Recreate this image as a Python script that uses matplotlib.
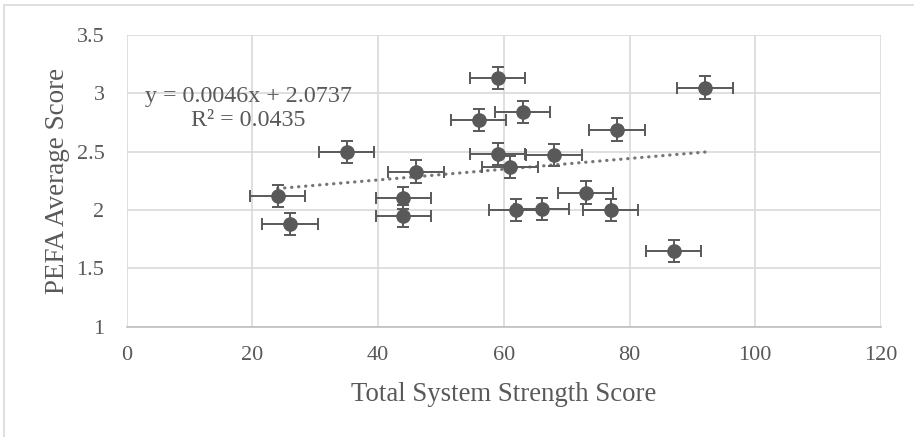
import matplotlib.pyplot as plt
from matplotlib.patches import Rectangle
import numpy as np

plt.rcParams["font.family"] = ["Liberation Serif", "DejaVu Serif"]

strength = [24, 26, 35, 44, 44, 46, 56, 59, 59, 61, 62, 63, 66, 68, 73, 77, 78, 87, 92]
pefa = [2.12, 1.88, 2.50, 2.10, 1.95, 2.33, 2.77, 3.13, 2.48, 2.37, 2.00, 2.84, 2.01, 2.47,
        2.15, 2.00, 2.69, 1.65, 3.05]
x_err = 4.4
y_err = 0.095
slope, intercept = 0.0046, 2.0737
r2 = 0.0435

grey = "#595959"
grid = "#d9d9d9"

fig = plt.figure(figsize=(9.14, 4.37), dpi=100)
fig.patches.append(Rectangle((4 / 914, -0.1), 1.2, 1.1 - 5 / 437, transform=fig.transFigure,
                             fill=False, edgecolor=grid, linewidth=1.2))
ax = fig.add_axes([126.7 / 914, 1 - 326.7 / 437, (881 - 126.7) / 914, (326.7 - 35) / 437])

ax.errorbar(strength, pefa, xerr=x_err, yerr=y_err, fmt="o", color=grey, ecolor=grey,
            markersize=9.5, elinewidth=1.4, capsize=4.2, capthick=1.4, zorder=3)

# linear trendline (Excel's fitted coefficients)
xt = np.array([min(strength), max(strength)])
ax.plot(xt, slope * xt + intercept, color="#767676", linewidth=2.3,
        linestyle=(0, (0.1, 2.1)), dash_capstyle="round", zorder=2)

ax.text(19.4, 2.87, f"y = {slope}x + {intercept}\nR² = {r2}", ha="center", va="center",
        fontsize=17.3, color=grey, linespacing=1.2)

ax.set_xlim(0, 120)
ax.set_ylim(1, 3.5)
ax.set_xticks(range(0, 121, 20))
ax.set_yticks([1, 1.5, 2, 2.5, 3, 3.5])
ax.set_yticklabels(["1", "1.5", "2", "2.5", "3", "3.5"])
ax.grid(True, color=grid, linewidth=1.2)
ax.set_axisbelow(True)
for s in ["top", "right", "left"]:
    ax.spines[s].set_visible(False)
ax.spines["bottom"].set_color("#bfbfbf")
ax.spines["bottom"].set_linewidth(1.2)
ax.tick_params(length=0, labelsize=16, labelcolor=grey, pad=14)
ax.tick_params(axis="y", pad=16)
ax.set_xlabel("Total System Strength Score", fontsize=19.3, color=grey, labelpad=12)
ax.set_ylabel("PEFA Average Score", fontsize=19.5, color=grey, labelpad=5)

fig.savefig("out.png", dpi=100)
